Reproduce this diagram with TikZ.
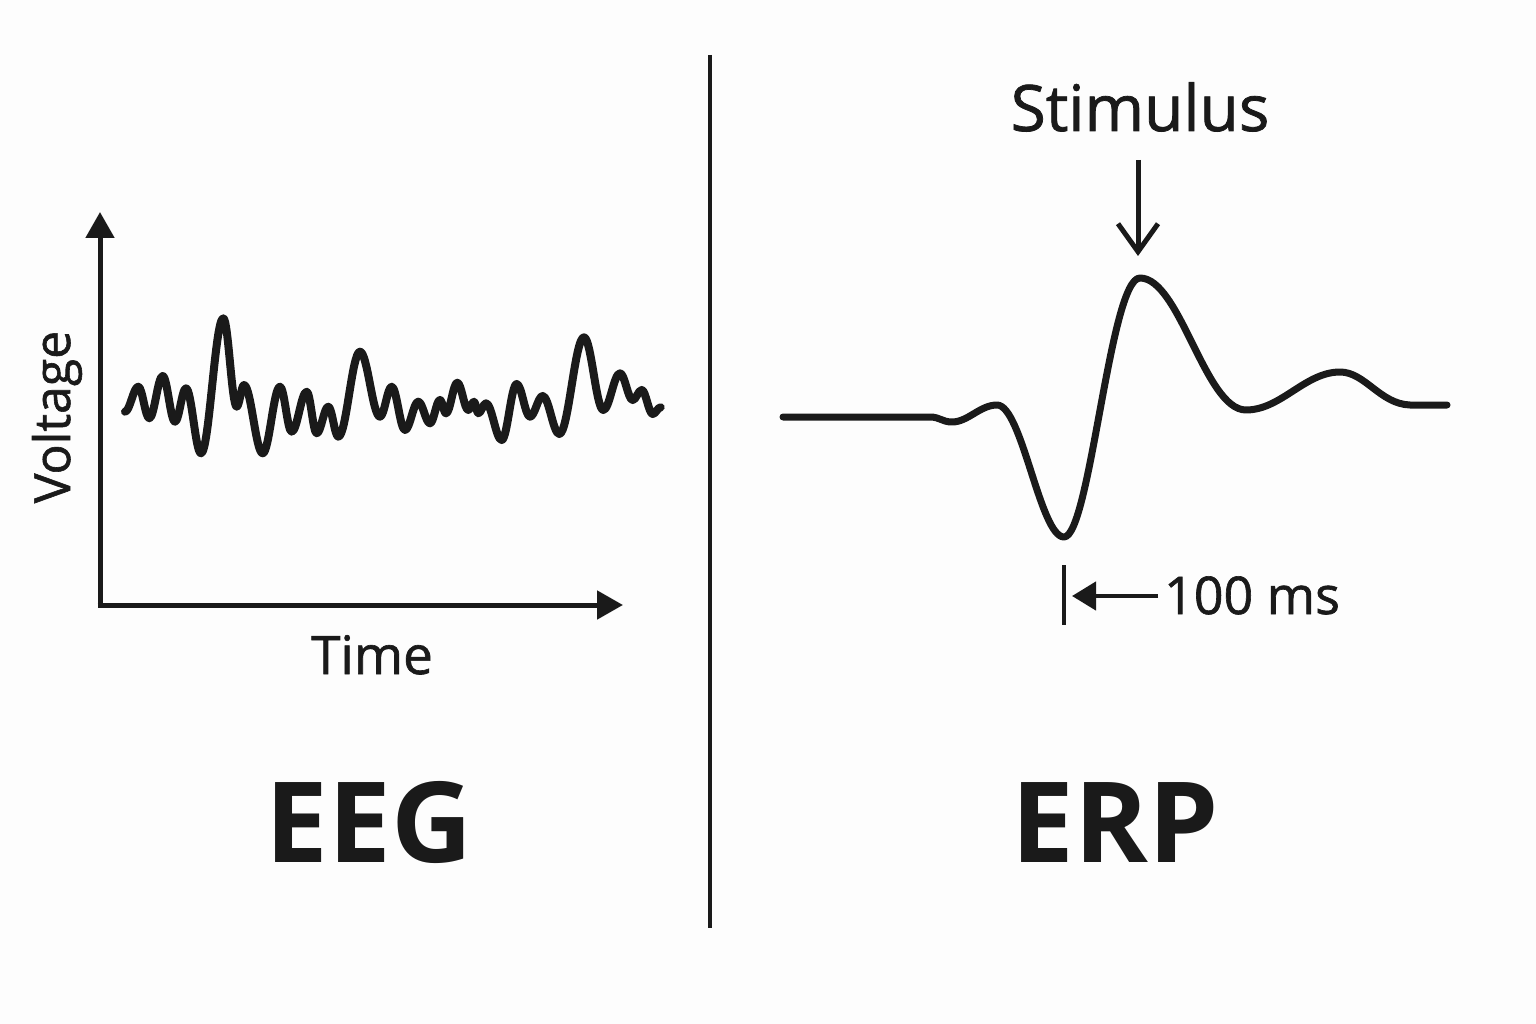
\documentclass[tikz,border=0pt]{standalone}
\usepackage{fontspec}
\setmainfont{Open Sans}
\newfontfamily\medfont{Open Sans}[FakeBold=1.2]
\usetikzlibrary{arrows.meta}
\definecolor{ink}{HTML}{1A1A1A}
\definecolor{bg}{HTML}{FDFDFD}
\tikzset{
  axisline/.style={draw=ink, line width=5pt, -{Triangle[length=26pt,width=28pt]}},
  wavepath/.style={draw=ink, line width=8pt, line cap=round, line join=round},
  erppath/.style={draw=ink, line width=7pt, line cap=round, line join=round},
  divider/.style={draw=ink, line width=4.5pt},
  stimarrow/.style={draw=ink, line width=5pt, -{Straight Barb[length=28pt,width=40pt,line join=miter]}},
  msarrow/.style={draw=ink, line width=4.5pt, -{Triangle[length=24pt,width=28pt]}},
  msbar/.style={draw=ink, line width=4.5pt},
  bigtitle/.style={text=ink, font=\fontsize{112}{112}\selectfont\bfseries, anchor=base, inner sep=0pt},
  lbl/.style={text=ink, font=\fontsize{53}{53}\medfont, anchor=base, inner sep=0pt},
  stimlbl/.style={text=ink, font=\fontsize{64}{64}\medfont, anchor=base, inner sep=0pt}
}
\begin{document}
\begin{tikzpicture}[x=1pt,y=-1pt]
\fill[bg] (0,0) rectangle (1536,1024);
\useasboundingbox (0,0) rectangle (1536,1024);

% ---------- divider ----------
\coordinate (divtop) at (710,55);
\coordinate (divbot) at (710,928);
\draw[divider] (divtop) -- (divbot);

% ---------- EEG axes ----------
\coordinate (origin) at (100,605);
\coordinate (ytip) at (100,212);
\coordinate (xtip) at (623,605);
\draw[axisline] ([yshift=2.5pt]origin) -- (ytip);
\draw[axisline] ([xshift=-2.5pt]origin) -- (xtip);

\node[lbl, rotate=90, font=\fontsize{50}{50}\medfont] (voltage) at (70,417) {Voltage};
\node[lbl] (time) at (372,674) {Time};

% ---------- EEG wave ----------
\draw[wavepath] (125,411.7)
  foreach \x/\y [remember=\x as \px (initially 125), remember=\y as \py (initially 411.7)] in {
    138.3/386.7, 149.3/418.3, 162.7/376, 175/421.7, 186/388.3, 201/453.3,
    223.3/318.3, 236.7/406.7, 244/385, 262.7/453.3, 280/386.7, 291.7/431.7,
    306.7/391.7, 316.7/433.3, 328.3/406.7, 338.3/436.7, 360/351.7, 380/416.7,
    391.7/386.7, 405/430, 418.3/401.7, 430/423.3, 440/400, 446/413.3,
    457.3/382.7, 468.3/410, 474/401.7, 478.3/413.3, 486/403.3, 501.7/440,
    516.7/384, 530/416.7, 542.7/396, 559.3/434, 584/337.3, 603.3/410,
    620/373.3, 632.7/400, 641.7/390, 652.7/414, 660.7/407.3}
  { .. controls ({\px+0.37*(\x-\px)},\py) and ({\x-0.37*(\x-\px)},\y) .. (\x,\y) };

\node[bigtitle] (eeg) at (369,862) {EEG};

% ---------- ERP ----------
\coordinate (erpstart) at (783,417);
\coordinate (erpend) at (1447,405);
\draw[erppath] (erpstart) -- (930,417)
  .. controls (940,417) and (942,422) .. (952,422)
  .. controls (968,422) and (980,405) .. (997,405)
  .. controls (1022,405) and (1040,537) .. (1064,537)
  .. controls (1090,537) and (1110,278) .. (1140,278)
  .. controls (1180,278) and (1205,410) .. (1246,410)
  .. controls (1281,410) and (1305,372) .. (1340,372)
  .. controls (1365,372) and (1380,404) .. (1410,405)
  -- (erpend);

\node[stimlbl] (stim) at (1140,131) {Stimulus};
\coordinate (stimtail) at (1138,160);
\coordinate (stimtip) at (1138,256);
\draw[stimarrow] (stimtail) -- (stimtip);

\node[lbl, font=\fontsize{52}{52}\medfont] (ms) at (1252,614) {100 ms};
\coordinate (msbartop) at (1064,565);
\coordinate (msbarbot) at (1064,625);
\draw[msbar] (msbartop) -- (msbarbot);
\coordinate (arrS) at (1158,596);
\coordinate (arrE) at (1072,596);
\draw[msarrow] (arrS) -- (arrE);

\node[bigtitle] (erp) at (1115,862) {ERP};
\end{tikzpicture}
\end{document}
